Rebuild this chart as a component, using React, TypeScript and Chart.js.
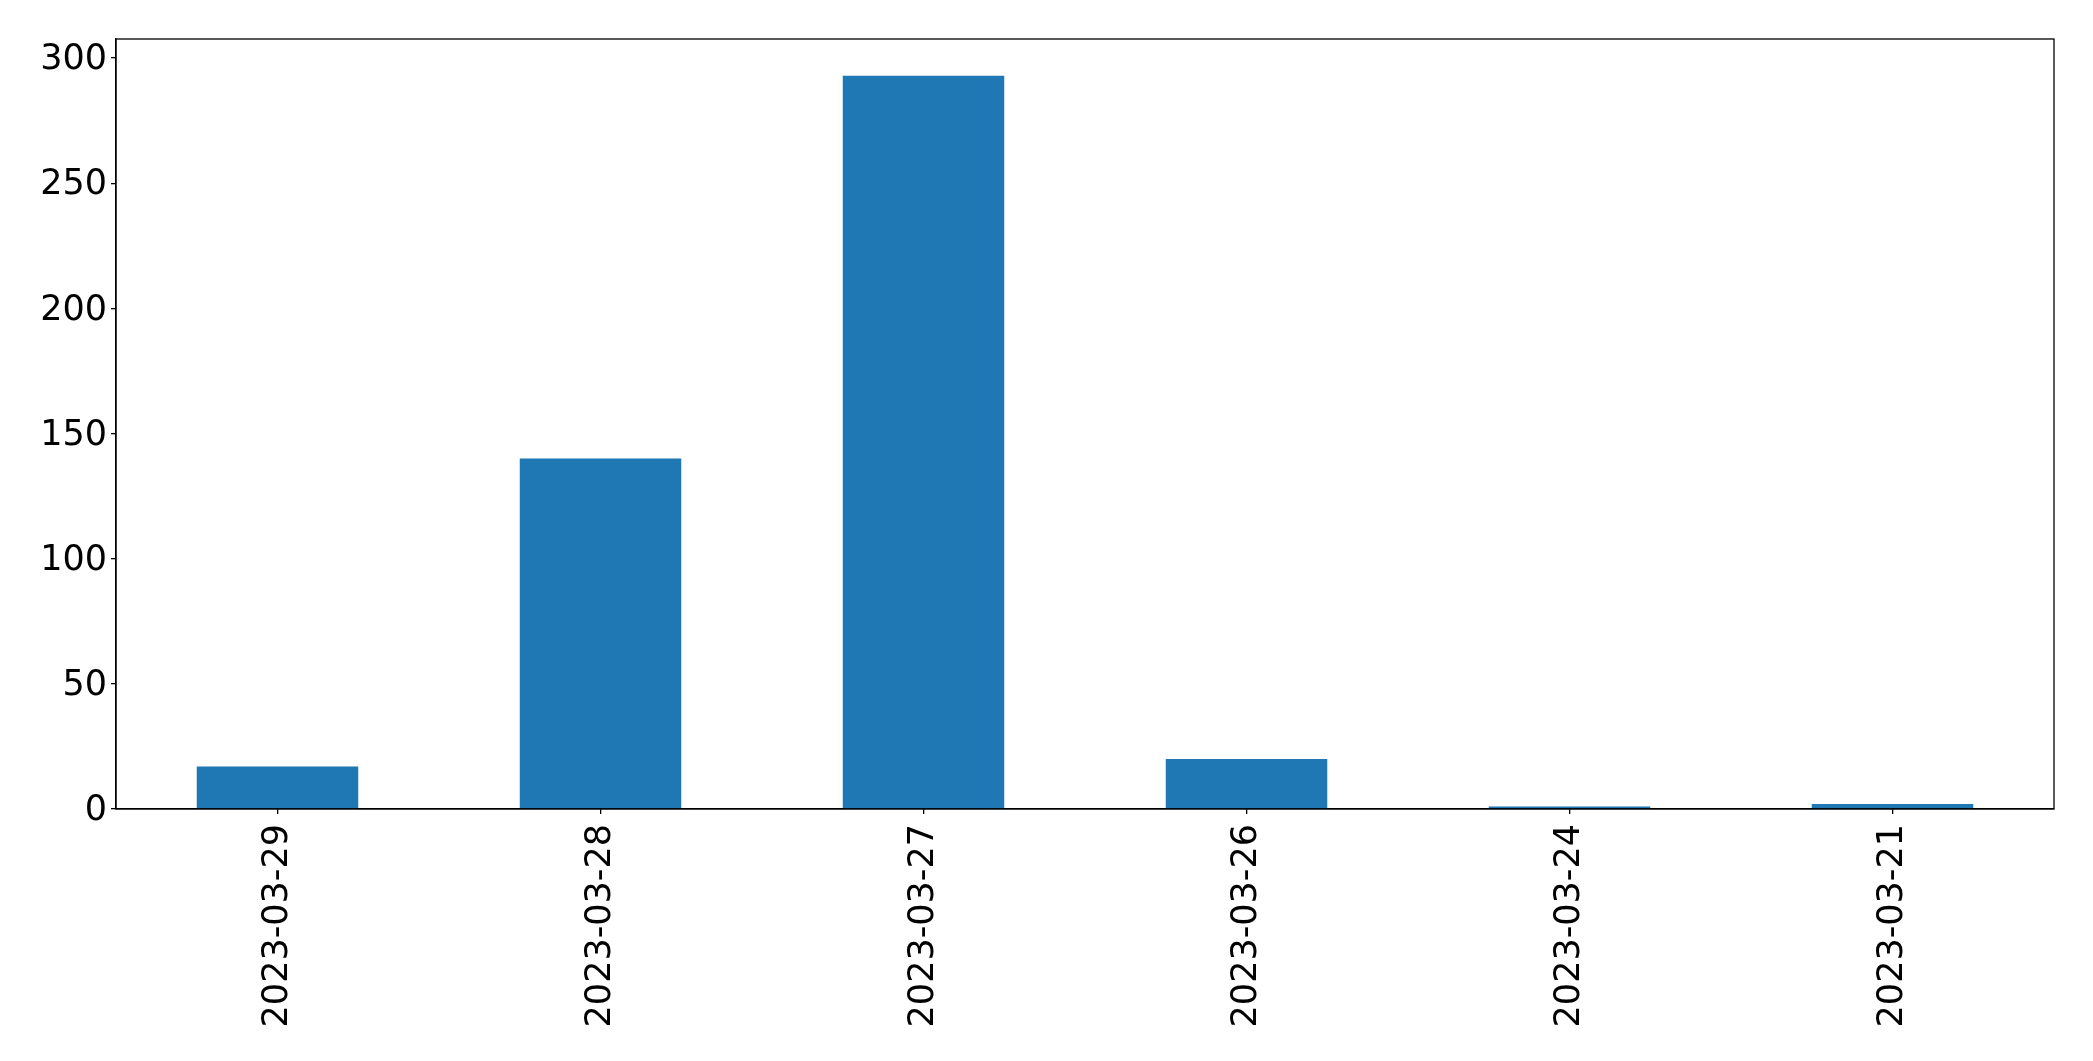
import React, { useEffect, useRef } from "react";
import { Chart, registerables } from "chart.js";

Chart.register(...registerables);

const categories: string[] = ["2023-03-29", "2023-03-28", "2023-03-27", "2023-03-26", "2023-03-24", "2023-03-21"];
const values: number[] = [17, 140, 293, 20, 1, 2];
const yTicks: number[] = [0, 50, 100, 150, 200, 250, 300];

const W = 2093;
const H = 1061;
const FONT = "'DejaVu Sans', sans-serif";

const framePlugin = {
  id: "frame",
  afterDraw(chart: any) {
    const { ctx, chartArea } = chart;
    ctx.save();
    ctx.strokeStyle = "#000";
    ctx.lineWidth = 1.3;
    ctx.strokeRect(chartArea.left, chartArea.top, chartArea.right - chartArea.left, chartArea.bottom - chartArea.top);
    ctx.restore();
  },
};

export default function App() {
  const ref = useRef<HTMLCanvasElement | null>(null);

  useEffect(() => {
    document.body.style.margin = "0";
    const canvas = ref.current;
    if (!canvas) return;
    const maxV = Math.max(...values) * 1.05;
    const chart = new Chart(canvas, {
      type: "bar",
      data: {
        labels: categories,
        datasets: [
          {
            data: values,
            backgroundColor: "#1f77b4",
            borderWidth: 0,
            barPercentage: 0.5,
            categoryPercentage: 1,
          },
        ],
      },
      options: {
        responsive: false,
        animation: false,
        devicePixelRatio: 1,
        layout: { padding: { left: 0, top: 39, right: 39, bottom: 0 } },
        plugins: { legend: { display: false }, tooltip: { enabled: false } },
        scales: {
          x: {
            grid: { display: true, offset: false, drawOnChartArea: false, drawTicks: true, tickLength: 5, tickColor: "#000", lineWidth: 1.3 },
            border: { display: true, color: "#000", width: 1.3 },
            ticks: {
              color: "#000",
              font: { family: FONT, size: 35 },
              minRotation: 90,
              maxRotation: 90,
              padding: 10,
              autoSkip: false,
            },
            afterFit(scale: any) {
              scale.height = H - 809;
            },
          },
          y: {
            min: 0,
            max: maxV,
            grid: { display: true, drawOnChartArea: false, drawTicks: true, tickLength: 5, tickColor: "#000", lineWidth: 1.3 },
            border: { display: true, color: "#000", width: 1.3 },
            ticks: {
              color: "#000",
              font: { family: FONT, size: 35 },
              stepSize: 50,
              padding: 4,
              labelOffset: 2,
            },
            afterBuildTicks(scale: any) {
              scale.ticks = yTicks.map((v) => ({ value: v }));
            },
            afterFit(scale: any) {
              scale.width = 116;
            },
          },
        },
      },
      plugins: [framePlugin],
    });
    return () => chart.destroy();
  }, []);

  return <canvas ref={ref} width={W} height={H} style={{ display: "block", width: W, height: H }} />;
}
